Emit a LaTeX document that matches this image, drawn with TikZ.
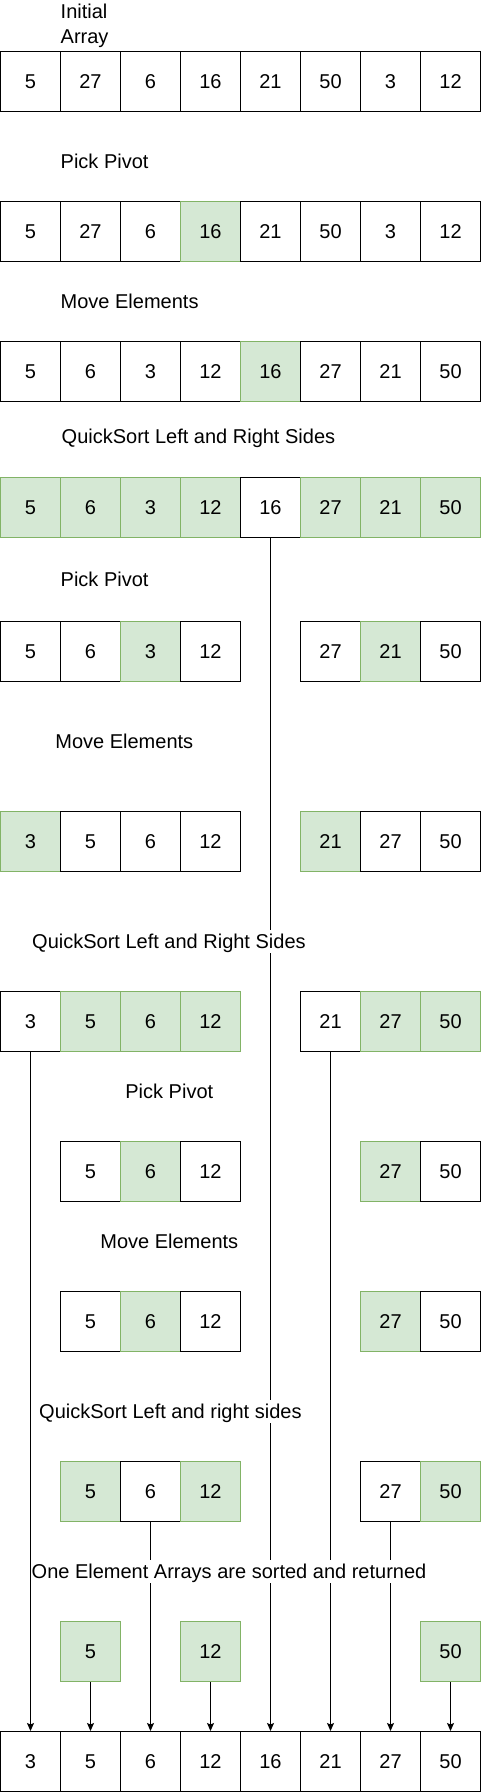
\documentclass[tikz,border=0pt]{standalone}
\usepackage{fontspec}
\setmainfont{Liberation Sans}
\usetikzlibrary{arrows.meta}
\definecolor{gfill}{HTML}{D5E8D4}
\definecolor{gline}{HTML}{82B366}
\newcommand{\lblfont}{\fontsize{20}{24.4}\selectfont}
\begin{document}
\begin{tikzpicture}[x=1pt,y=-1pt,
  cell/.style={draw=black, fill=white, line width=1pt, minimum width=60pt, minimum height=60pt, inner sep=0pt, anchor=north west, font=\lblfont},
  gcell/.style={cell, draw=gline, fill=gfill},
  lbl/.style={anchor=base west, inner sep=0pt, font=\lblfont},
  wlbl/.style={lbl, fill=white, inner xsep=1pt, inner ysep=2pt, text height=16pt, text depth=3pt},
  conn/.style={line width=1pt, -{Stealth[length=8pt,width=7pt,inset=1.5pt]}}]
\useasboundingbox (0,0) rectangle (481,1792);
% row a: initial array
\foreach \v/\s/\c in {5/cell/1,27/cell/2,6/cell/3,16/cell/4,21/cell/5,50/cell/6,3/cell/7,12/cell/8}
  \node[\s] (a\c) at ({(\c-1)*60},51) {\v};
% row b: pick pivot
\foreach \v/\s/\c in {5/cell/1,27/cell/2,6/cell/3,16/gcell/4,21/cell/5,50/cell/6,3/cell/7,12/cell/8}
  \node[\s] (b\c) at ({(\c-1)*60},201) {\v};
% row c: move elements
\foreach \v/\s/\c in {5/cell/1,6/cell/2,3/cell/3,12/cell/4,16/gcell/5,27/cell/6,21/cell/7,50/cell/8}
  \node[\s] (c\c) at ({(\c-1)*60},341) {\v};
% row d: quicksort sides
\foreach \v/\s/\c in {5/gcell/1,6/gcell/2,3/gcell/3,12/gcell/4,16/cell/5,27/gcell/6,21/gcell/7,50/gcell/8}
  \node[\s] (d\c) at ({(\c-1)*60},477) {\v};
% row e
\foreach \v/\s/\c in {5/cell/1,6/cell/2,3/gcell/3,12/cell/4,27/cell/6,21/gcell/7,50/cell/8}
  \node[\s] (e\c) at ({(\c-1)*60},621) {\v};
% row f
\foreach \v/\s/\c in {3/gcell/1,5/cell/2,6/cell/3,12/cell/4,21/gcell/6,27/cell/7,50/cell/8}
  \node[\s] (f\c) at ({(\c-1)*60},811) {\v};
% row g
\foreach \v/\s/\c in {3/cell/1,5/gcell/2,6/gcell/3,12/gcell/4,21/cell/6,27/gcell/7,50/gcell/8}
  \node[\s] (g\c) at ({(\c-1)*60},991) {\v};
% row h
\foreach \v/\s/\c in {5/cell/2,6/gcell/3,12/cell/4,27/gcell/7,50/cell/8}
  \node[\s] (h\c) at ({(\c-1)*60},1141) {\v};
% row i
\foreach \v/\s/\c in {5/cell/2,6/gcell/3,12/cell/4,27/gcell/7,50/cell/8}
  \node[\s] (i\c) at ({(\c-1)*60},1291) {\v};
% row j
\foreach \v/\s/\c in {5/gcell/2,6/cell/3,12/gcell/4,27/cell/7,50/gcell/8}
  \node[\s] (j\c) at ({(\c-1)*60},1461) {\v};
% row k
\foreach \v/\s/\c in {5/gcell/2,12/gcell/4,50/gcell/8}
  \node[\s] (k\c) at ({(\c-1)*60},1621) {\v};
% row l: sorted
\foreach \v/\s/\c in {3/cell/1,5/cell/2,6/cell/3,12/cell/4,16/cell/5,21/cell/6,27/cell/7,50/cell/8}
  \node[\s] (l\c) at ({(\c-1)*60},1731) {\v};
% connectors
\draw[conn] (d5.south) -- (l5.north);
\draw[conn] (g1.south) -- (l1.north);
\draw[conn] (g6.south) -- (l6.north);
\draw[conn] (j3.south) -- (l3.north);
\draw[conn] (j7.south) -- (l7.north);
\draw[conn] (k2.south) -- (l2.north);
\draw[conn] (k4.south) -- (l4.north);
\draw[conn] (k8.south) -- (l8.north);
% labels
\node[lbl, anchor=north west, align=left] (t1) at (60.5,4) {Initial\\Array};
\node[lbl] (t2) at (60.5,168.3) {Pick Pivot};
\node[lbl] (t3) at (60.5,308) {Move Elements};
\node[lbl] (t4) at (61.5,443.3) {QuickSort Left and Right Sides};
\node[lbl] (t5) at (60.5,586) {Pick Pivot};
\node[lbl] (t6) at (55.2,748.7) {Move Elements};
\node[wlbl] (t7) at (31,948.3) {QuickSort Left and Right Sides};
\node[lbl] (t8) at (125.2,1098.3) {Pick Pivot};
\node[lbl] (t9) at (100.2,1248.7) {Move Elements};
\node[wlbl, inner xsep=8pt] (t10) at (31,1418.3) {QuickSort Left and right sides};
\node[wlbl] (t11) at (30.5,1578.3) {One Element Arrays are sorted and returned};
\end{tikzpicture}
\end{document}
